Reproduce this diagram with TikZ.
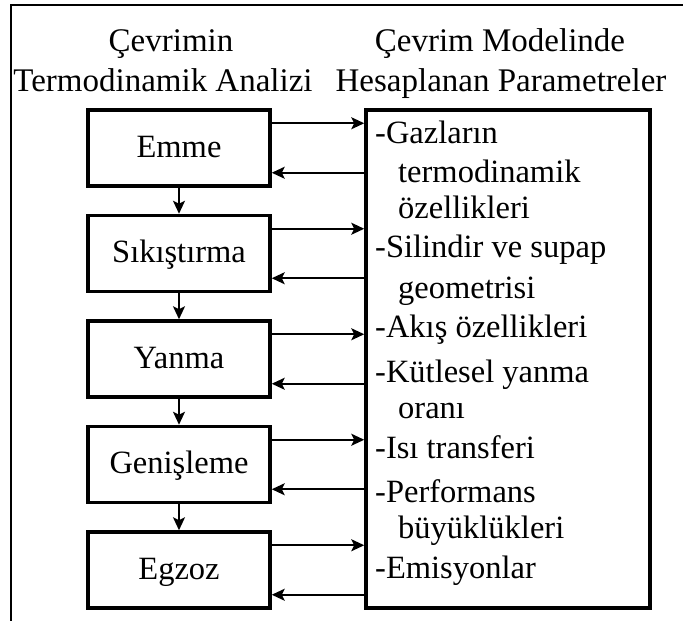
\documentclass[tikz,border=0pt]{standalone}
\usepackage{fontspec}
\setmainfont{Liberation Serif}
\usetikzlibrary{arrows.meta,calc}

\begin{document}
\begin{tikzpicture}[x=1pt,y=-1pt,
    stage/.style={draw,line width=3.5pt,minimum width=182pt,minimum height=76pt,inner sep=0pt,
      text height=23pt,text depth=5pt,font=\fontsize{32.5}{39}\selectfont},
    flow/.style={-{Stealth[length=13pt,width=12pt,inset=3pt]},line width=2pt},
    item/.style={anchor=base west,inner sep=0pt,font=\fontsize{32.5}{39}\selectfont},
    head/.style={anchor=base,inner sep=0pt,font=\fontsize{33}{40}\selectfont}]
        \useasboundingbox (0,0) rectangle (683,621);
        \draw[line width=2pt] (11,621) -- (11,5) -- (683,5);
        % headings
        \node[head] (h1) at (171,51) {Çevrimin};
        \node[head] (h2) at (163,91) {Termodinamik Analizi};
        \node[head] (h3) at (500,51) {Çevrim Modelinde};
        \node[head] (h4) at (501,91) {Hesaplanan Parametreler};
        % cycle stages
        \foreach \n/\t/\y in {emme/Emme/148,sikistirma/Sıkıştırma/253.5,yanma/Yanma/359,genisleme/Genişleme/464.5,egzoz/Egzoz/570}
            \node[stage] (\n) at (179,\y) {\t};
        \node[draw,line width=3.5pt,minimum width=284pt,minimum height=498pt] (param) at (508,359) {};
        \foreach \x/\y/\t [count=\i] in {375/143/-Gazların,398/182/termodinamik,398/218/özellikleri,
            375/257/-Silindir ve supap,398/298/geometrisi,375/337/-Akış özellikleri,
            375/382/-Kütlesel yanma,398/418/oranı,375/458/-Isı transferi,
            375/502/-Performans,398/538/büyüklükleri,375/578/-Emisyonlar}
            \node[item] (p\i) at (\x,\y) {\t};
        % arrows
        \foreach \a/\b in {emme/sikistirma,sikistirma/yanma,yanma/genisleme,genisleme/egzoz}
            \draw[flow] (\a) -- (\b);
        \foreach \n in {emme,sikistirma,yanma,genisleme,egzoz}{
            \coordinate (out) at ($(\n.north east)+(0,15)$);
            \coordinate (in) at ($(\n.south east)+(0,-15)$);
            \draw[flow] (out) -- (out -| param.west);
            \draw[flow] (in -| param.west) -- (in);
        }
    \end{tikzpicture}
\end{document}
